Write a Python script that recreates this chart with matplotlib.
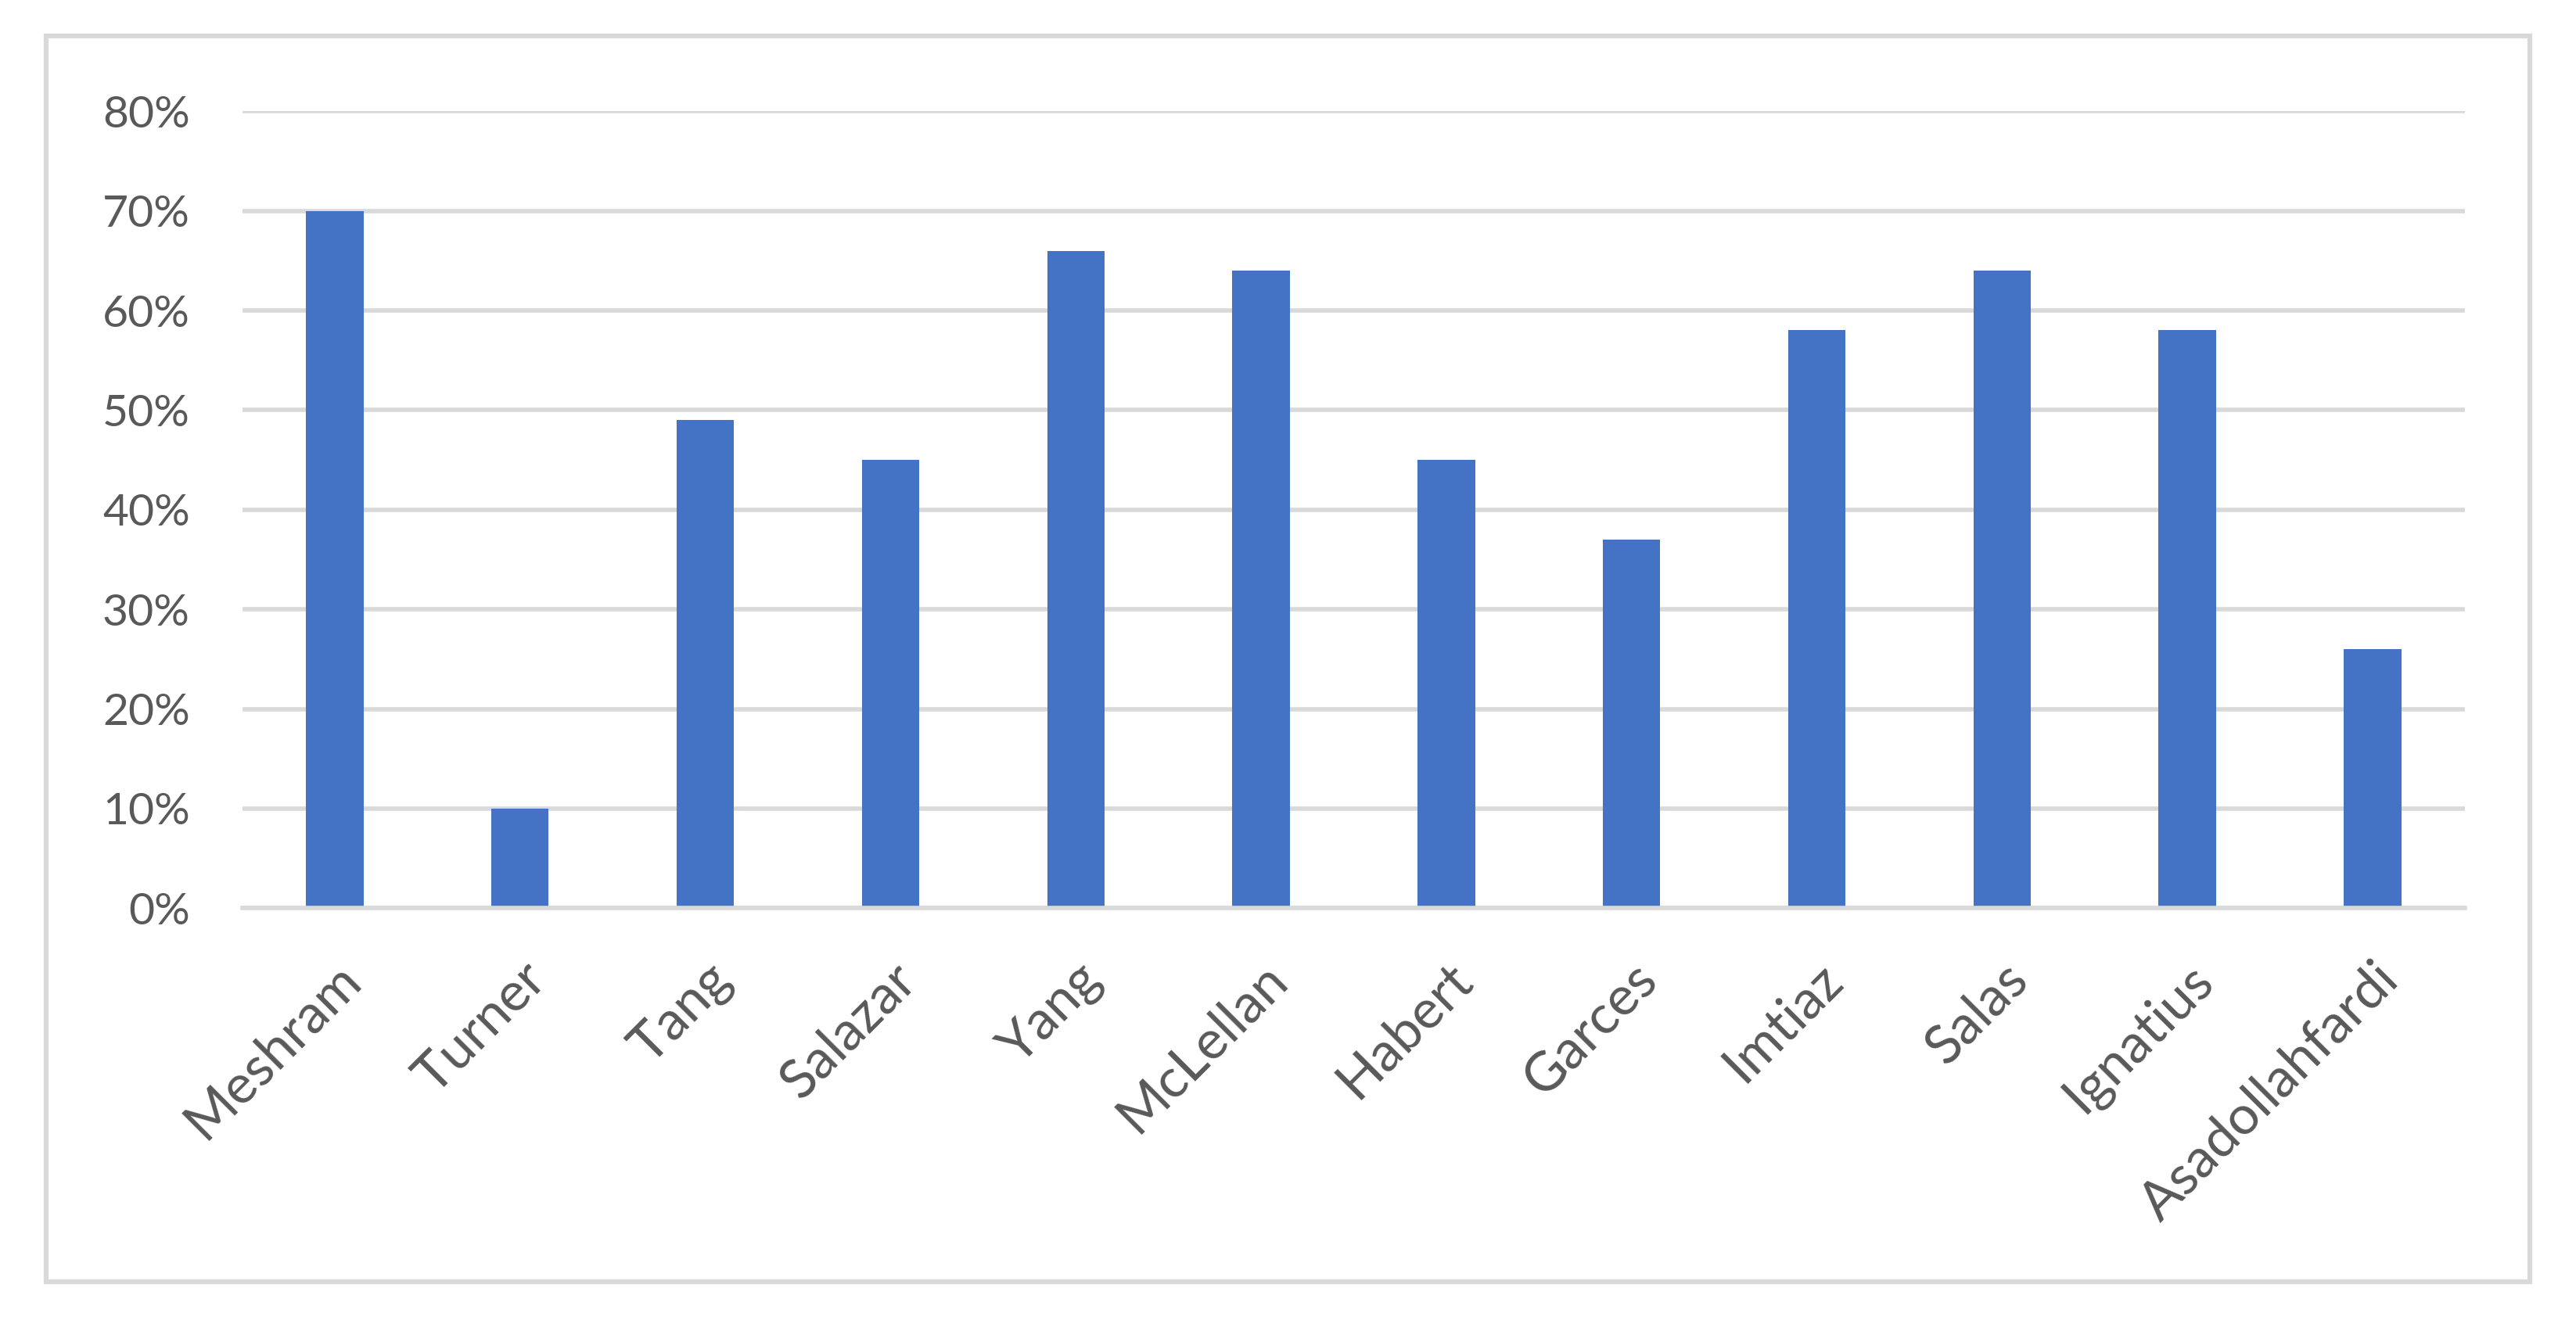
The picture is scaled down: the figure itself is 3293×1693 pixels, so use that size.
import numpy as np
import matplotlib
matplotlib.use("Agg")
import matplotlib.pyplot as plt
from matplotlib.patches import Rectangle
from matplotlib.ticker import PercentFormatter

plt.rcParams["font.family"] = ["Lato", "DejaVu Sans"]

# 数据：各作者占比（%）
names = ["Meshram", "Turner", "Tang", "Salazar", "Yang", "McLellan",
         "Habert", "Garces", "Imtiaz", "Salas", "Ignatius", "Asadollahfardi"]
values = [70, 10, 49, 45, 66, 64, 45, 37, 58, 64, 58, 26]
yticks = [0, 10, 20, 30, 40, 50, 60, 70, 80]

GRID = "#D9D9D9"
TXT = "#595959"

fig = plt.figure(figsize=(32.93, 16.93), dpi=100)
ax = fig.add_axes([0.094, 0.314, 0.863, 0.602])

x = np.arange(len(names))
ax.bar(x, values, width=0.31, color="#4472C4", zorder=3)

ax.set_xlim(-0.5, len(names) - 0.5)
ax.set_ylim(0, 80)
ax.set_yticks(yticks)
ax.yaxis.set_major_formatter(PercentFormatter(decimals=0))
ax.set_xticks(x)
ax.set_xticklabels(names, rotation=45, ha="right", rotation_mode="anchor")
ax.tick_params(axis="both", length=0, colors=TXT)
ax.tick_params(axis="x", pad=42, labelsize=50)
ax.tick_params(axis="y", pad=48, labelsize=41)

ax.grid(axis="y", color=GRID, linewidth=4, zorder=0)
for s in ["top", "right", "left"]:
    ax.spines[s].set_visible(False)
ax.spines["bottom"].set_color(GRID)
ax.spines["bottom"].set_linewidth(4)
ax.spines["bottom"].set_zorder(4)

# 外边框
fig.patches.append(Rectangle((0.018, 0.032), 0.964, 0.941, transform=fig.transFigure,
                             fill=False, edgecolor=GRID, linewidth=4.5))

fig.savefig("out.png", dpi=100, facecolor="white")
